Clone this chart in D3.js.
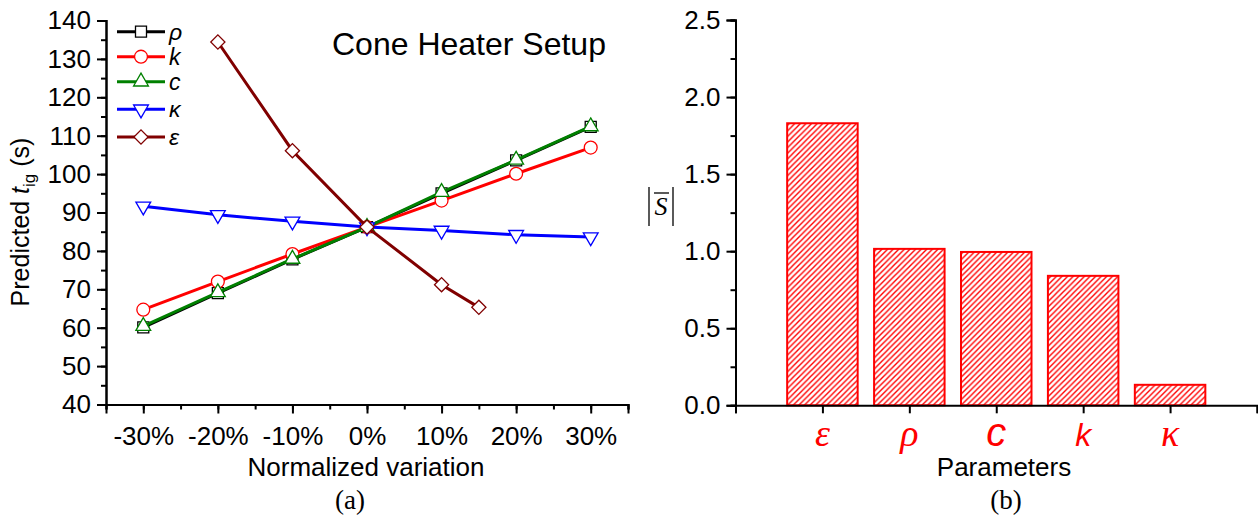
<!DOCTYPE html>
<html>
<head>
<meta charset="utf-8">
<script src="https://cdn.jsdelivr.net/npm/d3@7"></script>
<style>
    body { margin: 0; background: #fff; }
    svg { display: block; }
    text { font-family: "Liberation Sans", Arial, sans-serif; fill: #000; }
</style>
</head>
<body>
<svg id="chart" width="1258" height="521"></svg>
<script>
// panel (a): predicted ignition time vs normalized variation
const variation = [-30, -20, -10, 0, 10, 20, 30]
const rhoVals = [60.1, 69.0, 77.8, 86.2, 95.0, 103.6, 112.3]
const kVals = [64.7, 72.0, 79.2, 86.2, 93.1, 100.1, 106.9]
const cVals = [60.4, 69.2, 77.9, 86.2, 95.3, 103.7, 112.4]
const kappaVals = [91.6, 89.4, 87.7, 86.2, 85.3, 84.2, 83.6]
const epsVariation = [-20, -10, 0, 10, 15]
const epsVals = [134.4, 106.1, 86.2, 71.2, 65.3]
const xTicks = [-30, -20, -10, 0, 10, 20, 30]
const yTicksA = [40, 50, 60, 70, 80, 90, 100, 110, 120, 130, 140]

// panel (b): mean absolute sensitivity
const params = ["ε", "ρ", "c", "k", "κ"]
const sensitivity = [1.83, 1.015, 0.995, 0.84, 0.133]
const yTicksB = [0, 0.5, 1.0, 1.5, 2.0, 2.5]

const seriesList = [
    {name: "ρ", xs: variation, ys: rhoVals, color: "#000000", shape: "square"},
    {name: "k", xs: variation, ys: kVals, color: "#ff0000", shape: "circle"},
    {name: "c", xs: variation, ys: cVals, color: "#008000", shape: "up"},
    {name: "κ", xs: variation, ys: kappaVals, color: "#0000ff", shape: "down"},
    {name: "ε", xs: epsVariation, ys: epsVals, color: "#800000", shape: "diamond"},
]

const svg = d3.select("#chart")

function symbolPath(shape) {
    if (shape === "square") return d3.symbol(d3.symbolSquare, 121)()
    if (shape === "circle") return d3.symbol(d3.symbolCircle, 130)()
    if (shape === "up" || shape === "down") return d3.symbol(d3.symbolTriangle, 95)()
    return d3.symbol(d3.symbolSquare, 100)()
}

function symbolRotate(shape) {
    if (shape === "down") return 180
    if (shape === "diamond") return 45
    return 0
}

function styleAxis(g) {
    g.select(".domain").attr("stroke", "#000").attr("stroke-width", 2)
    g.selectAll(".tick line").attr("stroke", "#000").attr("stroke-width", 2)
    g.selectAll(".tick text").style("font-size", "26px")
}

// ---------- panel (a) ----------
const xA = d3.scaleLinear().domain([-35, 35]).range([106, 628])
const yA = d3.scaleLinear().domain([40, 140]).range([404.5, 20.5])

const gA = svg.append("g")

// minor ticks
gA.append("g")
    .attr("transform", `translate(0,${yA(40)})`)
    .call(d3.axisBottom(xA).tickValues(d3.range(-35, 36, 5)).tickSize(5).tickFormat(""))
    .call(styleAxis)
gA.append("g")
    .attr("transform", `translate(${xA(-35)},0)`)
    .call(d3.axisLeft(yA).tickValues(d3.range(40, 141, 5)).tickSize(5).tickFormat(""))
    .call(styleAxis)

gA.append("g")
    .attr("transform", `translate(0,${yA(40)})`)
    .call(d3.axisBottom(xA).tickValues(xTicks).tickSize(9).tickPadding(13).tickFormat(d => d + "%"))
    .call(styleAxis)
gA.append("g")
    .attr("transform", `translate(${xA(-35)},0)`)
    .call(d3.axisLeft(yA).tickValues(yTicksA).tickSize(9).tickPadding(6))
    .call(styleAxis)

const line = d3.line().x(d => xA(d[0])).y(d => yA(d[1]))

seriesList.forEach(s => {
    const pts = s.xs.map((x, i) => [x, s.ys[i]])
    gA.append("path")
        .attr("d", line(pts))
        .attr("fill", "none")
        .attr("stroke", s.color)
        .attr("stroke-width", 3)
    gA.selectAll(null)
        .data(pts)
        .enter()
        .append("path")
        .attr("d", symbolPath(s.shape))
        .attr("transform", d => `translate(${xA(d[0])},${yA(d[1])}) rotate(${symbolRotate(s.shape)})`)
        .attr("fill", "#fff")
        .attr("stroke", s.color)
        .attr("stroke-width", 1.3)
})

// legend
const legendRows = [31.7, 56.7, 81.7, 109.3, 137]
seriesList.forEach((s, i) => {
    const ly = legendRows[i]
    gA.append("line")
        .attr("x1", 117).attr("x2", 165)
        .attr("y1", ly).attr("y2", ly)
        .attr("stroke", s.color).attr("stroke-width", 3)
    gA.append("path")
        .attr("d", symbolPath(s.shape))
        .attr("transform", `translate(141,${ly}) rotate(${symbolRotate(s.shape)})`)
        .attr("fill", "#fff")
        .attr("stroke", s.color)
        .attr("stroke-width", 1.3)
    gA.append("text")
        .attr("x", 169)
        .attr("y", ly + 8)
        .style("font-size", "23px")
        .style("font-style", "italic")
        .text(s.name)
})

gA.append("text")
    .attr("x", 332)
    .attr("y", 55)
    .style("font-size", "32px")
    .text("Cone Heater Setup")

const yLabel = gA.append("text")
    .attr("transform", "translate(29,222) rotate(-90)")
    .attr("text-anchor", "middle")
    .style("font-size", "25px")
yLabel.append("tspan").text("Predicted ")
yLabel.append("tspan").style("font-style", "italic").text("t")
yLabel.append("tspan").attr("dy", 6).style("font-size", "17px").text("ig")
yLabel.append("tspan").attr("dy", -6).text(" (s)")

gA.append("text")
    .attr("x", 366)
    .attr("y", 476)
    .attr("text-anchor", "middle")
    .style("font-size", "26px")
    .text("Normalized variation")

gA.append("text")
    .attr("x", 350)
    .attr("y", 509)
    .attr("text-anchor", "middle")
    .style("font-family", "'Liberation Serif', 'Times New Roman', serif")
    .style("font-size", "27px")
    .text("(a)")

// ---------- panel (b) ----------
const xB = d3.scaleLinear().domain([0, 6]).range([735.5, 1257])
const yB = d3.scaleLinear().domain([0, 2.5]).range([405.3, 20])
const barW = 70.5

const defs = svg.append("defs")
defs.append("pattern")
    .attr("id", "hatch")
    .attr("patternUnits", "userSpaceOnUse")
    .attr("width", 5.6)
    .attr("height", 5.6)
    .append("path")
    .attr("d", "M0,5.6 L5.6,0 M-1,1 L1,-1 M4.6,6.6 L6.6,4.6")
    .attr("stroke", "#ff0000")
    .attr("stroke-width", 1.4)

const gB = svg.append("g")

gB.selectAll(null)
    .data(params)
    .enter()
    .append("rect")
    .attr("x", (d, i) => xB(i + 1) - barW / 2)
    .attr("y", (d, i) => yB(sensitivity[i]))
    .attr("width", barW)
    .attr("height", (d, i) => yB(0) - yB(sensitivity[i]))
    .attr("fill", "url(#hatch)")
    .attr("stroke", "#ff0000")
    .attr("stroke-width", 2)

gB.append("g")
    .attr("transform", `translate(${xB(0)},0)`)
    .call(d3.axisLeft(yB).tickValues(d3.range(0, 2.51, 0.25)).tickSize(5).tickFormat(""))
    .call(styleAxis)
gB.append("g")
    .attr("transform", `translate(${xB(0)},0)`)
    .call(d3.axisLeft(yB).tickValues(yTicksB).tickSize(9).tickPadding(6).tickFormat(d3.format(".1f")))
    .call(styleAxis)
gB.append("g")
    .attr("transform", `translate(0,${yB(0)})`)
    .call(d3.axisBottom(xB).tickValues(d3.range(0, 7)).tickSize(8).tickFormat(""))
    .call(styleAxis)

// category labels, greek in serif, latin in sans
const labelFont = {
    "ε": ["'Liberation Serif', serif", 38],
    "ρ": ["'Liberation Serif', serif", 38],
    "c": ["'Liberation Sans', sans-serif", 40],
    "k": ["'Liberation Sans', sans-serif", 32],
    "κ": ["'Liberation Serif', serif", 38],
}
gB.selectAll(null)
    .data(params)
    .enter()
    .append("text")
    .attr("x", (d, i) => xB(i + 1))
    .attr("y", 446)
    .attr("text-anchor", "middle")
    .style("font-style", "italic")
    .style("font-family", d => labelFont[d][0])
    .style("font-size", d => labelFont[d][1] + "px")
    .style("fill", "#ff0000")
    .text(d => d)

gB.append("text")
    .attr("x", 1004)
    .attr("y", 476)
    .attr("text-anchor", "middle")
    .style("font-size", "26px")
    .text("Parameters")

gB.append("text")
    .attr("x", 1006)
    .attr("y", 509)
    .attr("text-anchor", "middle")
    .style("font-family", "'Liberation Serif', 'Times New Roman', serif")
    .style("font-size", "27px")
    .text("(b)")

// |S| label with overbar
gB.append("line").attr("x1", 649).attr("x2", 649).attr("y1", 187).attr("y2", 226)
    .attr("stroke", "#000").attr("stroke-width", 1.3)
gB.append("line").attr("x1", 673).attr("x2", 673).attr("y1", 187).attr("y2", 226)
    .attr("stroke", "#000").attr("stroke-width", 1.3)
gB.append("line").attr("x1", 654).attr("x2", 669).attr("y1", 193).attr("y2", 193)
    .attr("stroke", "#000").attr("stroke-width", 1.3)
gB.append("text")
    .attr("x", 661)
    .attr("y", 215)
    .attr("text-anchor", "middle")
    .style("font-family", "'Liberation Serif', 'Times New Roman', serif")
    .style("font-style", "italic")
    .style("font-size", "26px")
    .text("S")
</script>
</body>
</html>
